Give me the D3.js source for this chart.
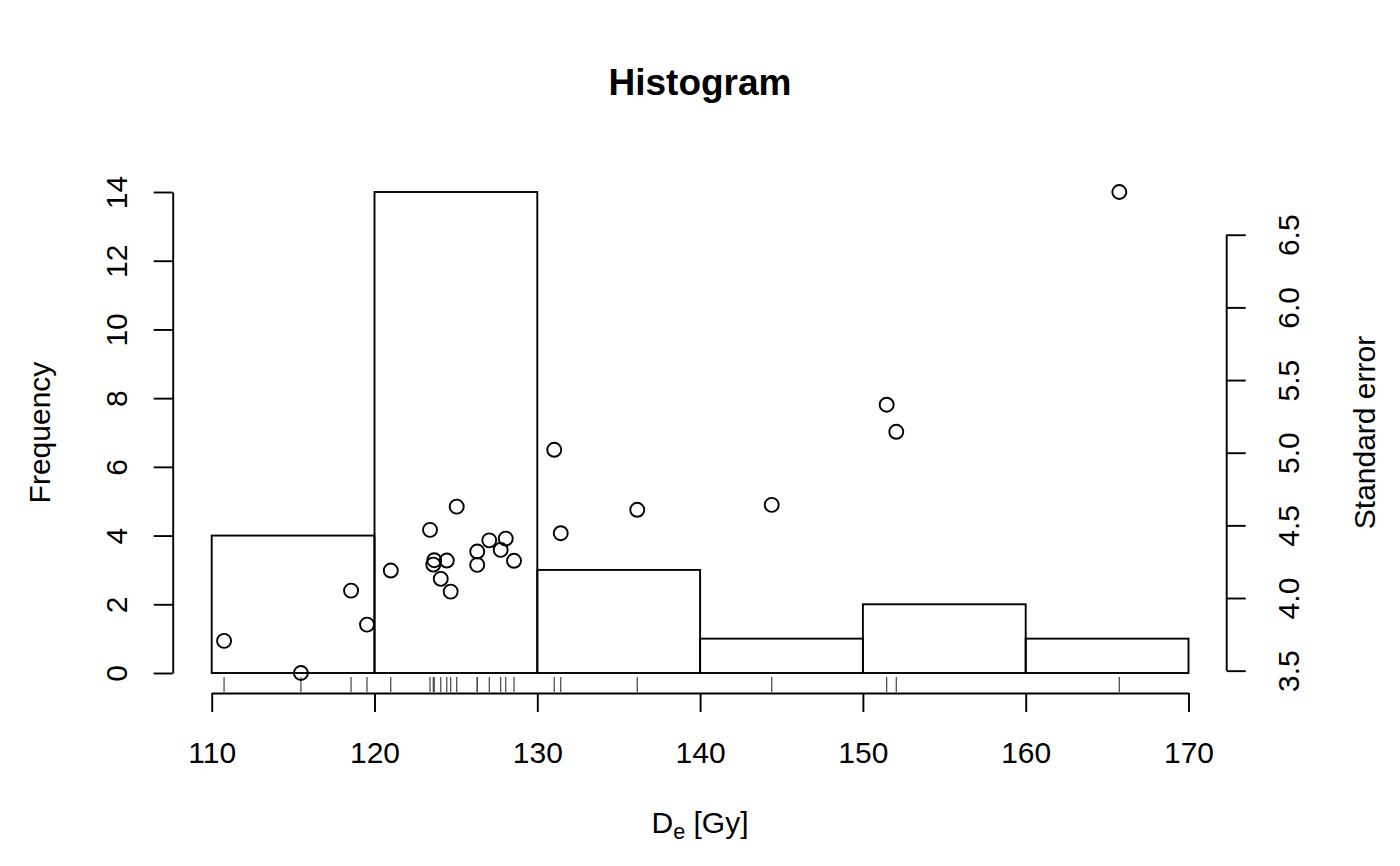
<!DOCTYPE html>
<html>
<head>
<meta charset="utf-8">
<script src="https://cdnjs.cloudflare.com/ajax/libs/d3/7.8.5/d3.min.js"></script>
<style>
  body { margin: 0; background: #fff; }
  svg { display: block; font-family: "Liberation Sans", Arial, Helvetica, sans-serif; }
</style>
</head>
<body>
<svg id="chart"></svg>
<script>
// equivalent doses (Gy) and their standard errors
const de = [110.76, 115.48, 118.56, 119.54, 121.00, 123.41, 123.67, 123.61, 124.07,
  124.44, 124.68, 125.05, 126.31, 126.31, 127.05, 128.06, 127.75, 128.57,
  131.04, 131.44, 136.14, 144.40, 151.46, 152.05, 165.75];
const se = [3.705, 3.484, 4.051, 3.817, 4.189, 4.469, 4.260, 4.230, 4.132,
  4.258, 4.044, 4.629, 4.320, 4.228, 4.397, 4.409, 4.331, 4.256,
  5.020, 4.446, 4.607, 4.641, 5.330, 5.144, 6.794];
const breaks = [110, 120, 130, 140, 150, 160, 170];
const freqTicks = [0, 2, 4, 6, 8, 10, 12, 14];
const seTicks = [3.5, 4.0, 4.5, 5.0, 5.5, 6.0, 6.5];

const width = 1400;
const height = 866;
const fs = 30;

const svg = d3.select('#chart')
  .attr('width', width)
  .attr('height', height);

svg.append('rect').attr('width', width).attr('height', height).attr('fill', '#fff');

const bins = d3.bin()
  .domain([breaks[0], breaks[breaks.length - 1]])
  .thresholds(breaks.slice(1, -1))(de);

const x = d3.scaleLinear()
  .domain([breaks[0], breaks[breaks.length - 1]])
  .range([211.7, 1188.5]);

const y = d3.scaleLinear()
  .domain([0, d3.max(bins, b => b.length)])
  .range([673, 192]);

// standard error uses its own scale, stretched over the same height
const ySE = d3.scaleLinear()
  .domain(d3.extent(se))
  .range([y(0), y(d3.max(bins, b => b.length))]);

const lw = 1.9;

// bars
svg.append('g')
  .selectAll('rect')
  .data(bins)
  .join('rect')
  .attr('x', d => x(d.x0))
  .attr('y', d => y(d.length))
  .attr('width', d => x(d.x1) - x(d.x0))
  .attr('height', d => y(0) - y(d.length))
  .attr('fill', 'none')
  .attr('stroke', '#000')
  .attr('stroke-width', lw);

// rug
svg.append('g')
  .selectAll('line')
  .data(de)
  .join('line')
  .attr('x1', d => x(d)).attr('x2', d => x(d))
  .attr('y1', 692).attr('y2', 677)
  .attr('stroke', '#444')
  .attr('stroke-width', 1.2);

// De vs standard error
svg.append('g')
  .selectAll('circle')
  .data(de.map((d, i) => [d, se[i]]))
  .join('circle')
  .attr('cx', d => x(d[0]))
  .attr('cy', d => ySE(d[1]))
  .attr('r', 7)
  .attr('fill', 'none')
  .attr('stroke', '#000')
  .attr('stroke-width', lw);

function styleAxis(g) {
  g.selectAll('path, line').attr('stroke', '#000').attr('stroke-width', lw);
  g.selectAll('text').attr('fill', '#000').attr('font-size', fs)
    .attr('font-family', '"Liberation Sans", Arial, Helvetica, sans-serif');
}

// x axis
svg.append('g')
  .attr('transform', 'translate(0,693)')
  .call(d3.axisBottom(x).tickValues(breaks).tickSize(19).tickSizeOuter(0).tickPadding(0))
  .call(styleAxis)
  .call(g => g.selectAll('.tick text').attr('y', 69.5).attr('dy', 0));

// left axis
svg.append('g')
  .attr('transform', 'translate(172.7,0)')
  .call(d3.axisLeft(y).tickValues(freqTicks).tickSize(19).tickSizeOuter(0))
  .call(styleAxis)
  .call(g => g.selectAll('.tick text')
    .attr('x', 0).attr('y', -46).attr('dy', 0)
    .attr('text-anchor', 'middle')
    .attr('transform', 'rotate(-90)'));

// right axis
svg.append('g')
  .attr('transform', 'translate(1226.7,0)')
  .call(d3.axisRight(ySE).tickValues(seTicks).tickSize(19).tickFormat(d3.format('.1f')))
  .call(g => g.select('.domain').remove())
  .call(g => g.append('line')
    .attr('y1', ySE(seTicks[0])).attr('y2', ySE(seTicks[seTicks.length - 1])))
  .call(styleAxis)
  .call(g => g.selectAll('.tick text')
    .attr('x', 0).attr('y', 72.5).attr('dy', 0)
    .attr('text-anchor', 'middle')
    .attr('transform', 'rotate(-90)'));

// titles
svg.append('text')
  .attr('x', 700).attr('y', 95)
  .attr('text-anchor', 'middle')
  .attr('font-size', 37)
  .attr('font-weight', 'bold')
  .text('Histogram');

const xt = svg.append('text')
  .attr('x', 700).attr('y', 833)
  .attr('text-anchor', 'middle')
  .attr('font-size', fs);
xt.append('tspan').text('D');
xt.append('tspan').attr('font-size', fs * 0.72).attr('dy', 6).text('e');
xt.append('tspan').attr('dy', -6).text(' [Gy]');

svg.append('text')
  .attr('transform', 'translate(50,432.5) rotate(-90)')
  .attr('text-anchor', 'middle')
  .attr('font-size', fs)
  .text('Frequency');

svg.append('text')
  .attr('transform', 'translate(1374.5,432.5) rotate(-90)')
  .attr('text-anchor', 'middle')
  .attr('font-size', fs)
  .text('Standard error');
</script>
</body>
</html>
